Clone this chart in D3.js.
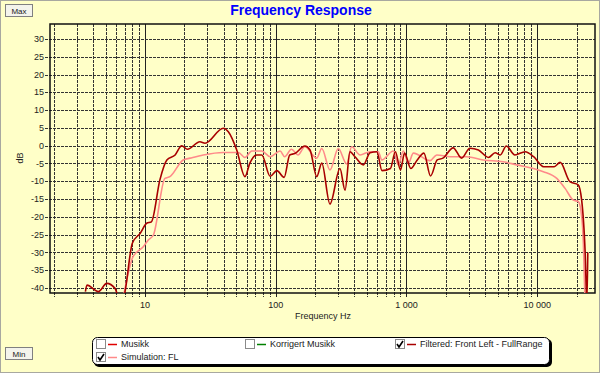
<!DOCTYPE html>
<html>
<head>
<meta charset="utf-8">
<script src="https://cdn.jsdelivr.net/npm/d3@7"></script>
<style>
  html, body { margin: 0; padding: 0; background: #ffffc8; }
  svg { display: block; font-family: "Liberation Sans", Arial, sans-serif; }
</style>
</head>
<body>
<svg id="chart"></svg>
<script>
// x = frequency (Hz), y = level (dB)
const filteredFreq = [3.5, 3.6, 4.4, 5.1, 5.9, 6.3, 6.8, 8.0, 9.2, 10.3, 11.2, 13, 14.7, 17, 19.1, 21.1, 26.3, 28.8, 39.7, 43.4, 50.3, 58.2, 63.4, 71.6, 78.3, 90.6, 102, 116, 128, 140, 167, 183, 206, 225, 260, 310, 339, 370, 404, 468, 527, 594, 650, 754, 823, 900, 967, 1080, 1210, 1360, 1530, 1720, 1900, 2280, 2640, 3060, 3550, 4240, 4770, 5220, 5810, 6750, 8100, 9400, 11200, 13500, 15000, 17800, 20600, 21900, 23300, 24000, 24400];
const filteredDb = [-41, -39.2, -41, -38.7, -40.1, -42.5, -42.5, -27.4, -24.6, -21.8, -21.4, -9.6, -4, -2.6, 0, -1, 1.1, 0.7, 4.9, 3.9, -1.2, -8.7, -4.9, -2.6, -2.6, -8.6, -7, -8.9, -2.6, -2.2, -0.1, -1.2, -8.7, -4.9, -16.4, -6.4, -12.5, -1.7, -3.1, -5.4, -2, -1.7, -7, -6.4, -1.7, -6.8, -2.1, -6.4, -4, -2.1, -8.5, -4, -3.5, -0.6, -3.5, -0.7, -1.2, -3.3, -2, -2.6, -0.1, -2.6, -1.7, -3.1, -5.9, -5.9, -4.7, -10.1, -11, -15.3, -30.2, -44, -30];

const simFreq = [6.8, 8.1, 9.7, 10.6, 11.6, 14.2, 15.5, 19.6, 22.1, 27.9, 39.7, 51.8, 58.2, 65.6, 78.3, 90.6, 108, 117, 132, 148, 167, 206, 225, 260, 301, 349, 381, 442, 527, 610, 647, 794, 867, 947, 1034, 1130, 1516, 1706, 2157, 2892, 3875, 5510, 6980, 9350, 11150, 14130, 16350, 18920, 20660, 21930, 22570, 23250];
const simDb = [-43, -31.2, -28.4, -26.5, -25.1, -9.2, -8.7, -4, -3.5, -2.6, -1.9, -1.9, -3.3, -1.5, -1.5, -3.1, -1.5, -3.1, -1, -2.6, -0.3, -3.5, -0.8, -6.8, -0.8, -5.1, -0.3, -2.6, -1.7, -1.7, -4, -1.5, -5.4, -1.5, -4.9, -2.1, -4.2, -2.6, -3.1, -3.1, -4, -4.5, -5.4, -6.4, -7.3, -9.2, -12, -15.3, -15.7, -20, -27.4, -44];

const dbTicks = [30, 25, 20, 15, 10, 5, 0, -5, -10, -15, -20, -25, -30, -35, -40];
const freqTicks = [10, 100, 1000, 10000];
const freqTickLabels = ["10", "100", "1 000", "10 000"];
const decades = [1, 10, 100, 1000, 10000];
const minorSteps = [2, 3, 4, 5, 6, 7, 8, 9];

const legendItems = [
  {name: "Musikk", color: "#e00000", checked: false, col: 0, row: 0},
  {name: "Korrigert Musikk", color: "#008000", checked: false, col: 1, row: 0},
  {name: "Filtered: Front Left - FullRange", color: "#a80000", checked: true, col: 2, row: 0},
  {name: "Simulation: FL", color: "#ff8a8a", checked: true, col: 0, row: 1}
];

const W = 600, H = 373;
const plot = {left: 50, right: 595, top: 24, bottom: 293};

const svg = d3.select("#chart").attr("width", W).attr("height", H);

svg.append("rect").attr("width", W).attr("height", H).attr("fill", "#ffffc8");
svg.append("rect").attr("x", 0.5).attr("y", 0.5).attr("width", W - 1).attr("height", H - 1)
  .attr("fill", "none").attr("stroke", "#a8a8a0");

const x = d3.scaleLog().domain([1.876, 27700]).range([plot.left, plot.right]);
const y = d3.scaleLinear().domain([-41.4, 34.2]).range([plot.bottom, plot.top]);

// title
svg.append("text")
  .attr("x", 301).attr("y", 15)
  .attr("text-anchor", "middle")
  .style("font-size", "14px").style("font-weight", "bold")
  .attr("fill", "#0000ff")
  .text("Frequency Response");

// grid
const grid = svg.append("g");
const minorFreqs = [];
decades.forEach(d => minorSteps.forEach(m => {
  const f = d * m;
  if (f > x.domain()[0] && f < x.domain()[1]) minorFreqs.push(f);
}));

grid.selectAll(".vminor")
  .data(minorFreqs)
  .enter().append("line")
  .attr("x1", d => Math.round(x(d)) + 0.5).attr("x2", d => Math.round(x(d)) + 0.5)
  .attr("y1", plot.top).attr("y2", plot.bottom + 4)
  .attr("stroke", "#333").attr("stroke-dasharray", "3,1");

grid.selectAll(".vmajor")
  .data(freqTicks)
  .enter().append("line")
  .attr("x1", d => Math.round(x(d)) + 0.5).attr("x2", d => Math.round(x(d)) + 0.5)
  .attr("y1", plot.top).attr("y2", plot.bottom + 4)
  .attr("stroke", "#222");

grid.selectAll(".hgrid")
  .data(dbTicks)
  .enter().append("line")
  .attr("x1", plot.left - 5).attr("x2", plot.right)
  .attr("y1", d => Math.round(y(d)) + 0.5).attr("y2", d => Math.round(y(d)) + 0.5)
  .attr("stroke", "#333").attr("stroke-dasharray", "3,1");

// frame
svg.append("rect")
  .attr("x", plot.left).attr("y", plot.top)
  .attr("width", plot.right - plot.left).attr("height", plot.bottom - plot.top)
  .attr("fill", "none").attr("stroke", "#111").attr("stroke-width", 1.5);

// y labels
svg.append("g").selectAll("text")
  .data(dbTicks)
  .enter().append("text")
  .attr("x", 44).attr("y", d => y(d))
  .attr("dy", "0.35em")
  .attr("text-anchor", "end")
  .style("font-size", "9px").attr("fill", "#222")
  .text(d => d);

svg.append("text")
  .attr("transform", "translate(23,158) rotate(-90)")
  .attr("text-anchor", "middle")
  .style("font-size", "9px").attr("fill", "#222")
  .text("dB");

// x labels
svg.append("g").selectAll("text")
  .data(freqTicks)
  .enter().append("text")
  .attr("x", d => x(d)).attr("y", 308)
  .attr("text-anchor", "middle")
  .style("font-size", "9px").attr("fill", "#222")
  .text((d, i) => freqTickLabels[i]);

svg.append("text")
  .attr("x", 323).attr("y", 319)
  .attr("text-anchor", "middle")
  .style("font-size", "9px").attr("fill", "#222")
  .text("Frequency Hz");

// curves
svg.append("clipPath").attr("id", "plotclip")
  .append("rect")
  .attr("x", plot.left).attr("y", plot.top)
  .attr("width", plot.right - plot.left).attr("height", plot.bottom - plot.top);

const line = d3.line()
  .x(d => x(d[0]))
  .y(d => y(d[1]))
  .curve(d3.curveMonotoneX);

const curves = svg.append("g").attr("clip-path", "url(#plotclip)");

curves.append("path")
  .datum(simFreq.map((f, i) => [f, simDb[i]]))
  .attr("fill", "none")
  .attr("stroke", "#ff8a8a")
  .attr("stroke-width", 1.6)
  .attr("d", line);

curves.append("path")
  .datum(filteredFreq.map((f, i) => [f, filteredDb[i]]))
  .attr("fill", "none")
  .attr("stroke", "#a80000")
  .attr("stroke-width", 1.6)
  .attr("d", line);

// Max / Min buttons
const buttons = [{label: "Max", y: 4}, {label: "Min", y: 347}];
const btn = svg.selectAll(".btn").data(buttons).enter().append("g");
btn.append("rect")
  .attr("x", 5.5).attr("y", d => d.y + 0.5)
  .attr("width", 27).attr("height", 12)
  .attr("fill", "#f4f4ec").attr("stroke", "#808080");
btn.append("text")
  .attr("x", 19).attr("y", d => d.y + 9.5)
  .attr("text-anchor", "middle")
  .style("font-size", "8px").attr("fill", "#222")
  .text(d => d.label);

// legend
const legend = svg.append("g");
legend.append("rect")
  .attr("x", 94).attr("y", 339).attr("width", 458).attr("height", 28)
  .attr("rx", 5).attr("fill", "#000");
legend.append("rect")
  .attr("x", 92.5).attr("y", 337.5).attr("width", 457).attr("height", 27)
  .attr("rx", 5).attr("fill", "#fff").attr("stroke", "#000");

const colX = [96, 245, 395];
const rowY = [344, 357];
const items = legend.selectAll(".item")
  .data(legendItems)
  .enter().append("g")
  .attr("transform", d => `translate(${colX[d.col]},${rowY[d.row]})`);

items.append("rect")
  .attr("x", 0.5).attr("y", -4.5).attr("width", 9).attr("height", 9)
  .attr("fill", "#fff").attr("stroke", "#8a8a8a");
items.filter(d => d.checked).append("path")
  .attr("d", "M2,0 L4,3 L8,-3")
  .attr("fill", "none").attr("stroke", "#000").attr("stroke-width", 1.6);
items.append("line")
  .attr("x1", 12).attr("x2", 21).attr("y1", 0.5).attr("y2", 0.5)
  .attr("stroke", d => d.color).attr("stroke-width", 1.5);
items.append("text")
  .attr("x", 25).attr("y", 3)
  .style("font-size", "9px").attr("fill", "#222")
  .text(d => d.name);
</script>
</body>
</html>
